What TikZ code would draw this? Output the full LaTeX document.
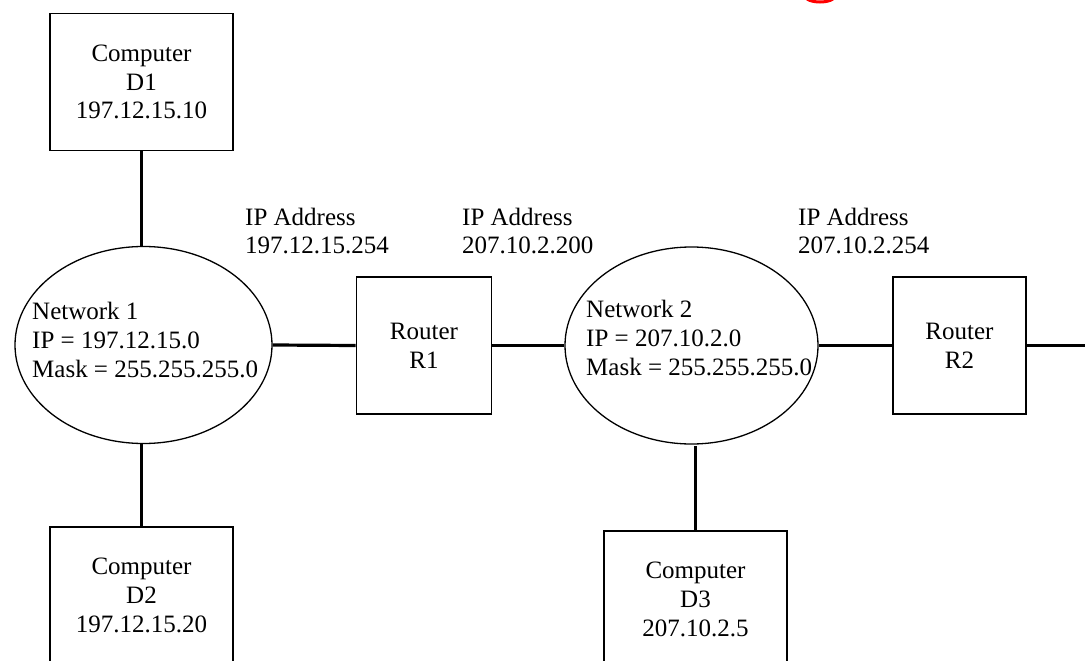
\documentclass[tikz,border=0pt]{standalone}
\usepackage{fontspec}
\setmainfont{Liberation Serif}
\usetikzlibrary{shapes.geometric}
\begin{document}
\begin{tikzpicture}[x=1pt,y=-1pt,
  txt/.style={font=\fontsize{25}{28.75}\selectfont, inner sep=0pt},
  pcbox/.style={txt, draw, line width=1.8pt, align=center, minimum width=183pt, minimum height=137pt},
  rtbox/.style={txt, draw, line width=1.8pt, align=center, minimum width=135pt, minimum height=137pt},
  netell/.style={draw, ellipse, line width=1.3pt, inner sep=0pt, minimum height=197pt},
  lbl/.style={txt, align=left, anchor=west},
  link/.style={line width=3.2pt}]
\useasboundingbox (0,0) rectangle (1085,661);
\clip (0,0) rectangle (1085,661);

% network ellipses
\node[netell, minimum width=257pt] (E1) at (143.5,345) {};
\node[netell, minimum width=253pt] (E2) at (691.5,345.5) {};
\node[lbl] (E1t) at (32,340) {Network 1\\IP = 197.12.15.0\\Mask = 255.255.255.0};
\node[lbl] (E2t) at (586,338) {Network 2\\IP = 207.10.2.0\\Mask = 255.255.255.0};

% computers
\node[pcbox] (D1) at (141.5,82) {Computer\\D1\\197.12.15.10};
\node[pcbox] (D2) at (141.5,595.5) {Computer\\D2\\197.12.15.20};
\node[pcbox] (D3) at (695.5,599.5) {Computer\\D3\\207.10.2.5};

% routers
\node[rtbox] (R1) at (424,345.5) {Router\\R1};
\node[rtbox, minimum width=133pt] (R2) at (959.5,345.5) {Router\\R2};

% IP address labels
\node[lbl] (L1) at (245,231) {IP Address\\197.12.15.254};
\node[lbl] (L2) at (462,231) {IP Address\\207.10.2.200};
\node[lbl] (L3) at (798,231) {IP Address\\207.10.2.254};

% connectors
\coordinate (rend) at (1090,345.5);
\draw[link] (D1.south) -- (D1.south |- E1.north);
\draw[link] (D2.north) -- (D2.north |- E1.south);
\draw[link] (E1.east) -- (R1.west);
\draw[link] (R1.east) -- (E2.west);
\draw[link] (E2.east) -- (R2.west);
\draw[link] (R2.east) -- (rend);
\draw[link] (D3.north) -- ([yshift=-1pt]D3.north |- E2.south);

% red mark at the top edge
\draw[red, line width=3pt] (807,-1) .. controls (813,3) and (827,3) .. (833,-1);
\end{tikzpicture}
\end{document}
